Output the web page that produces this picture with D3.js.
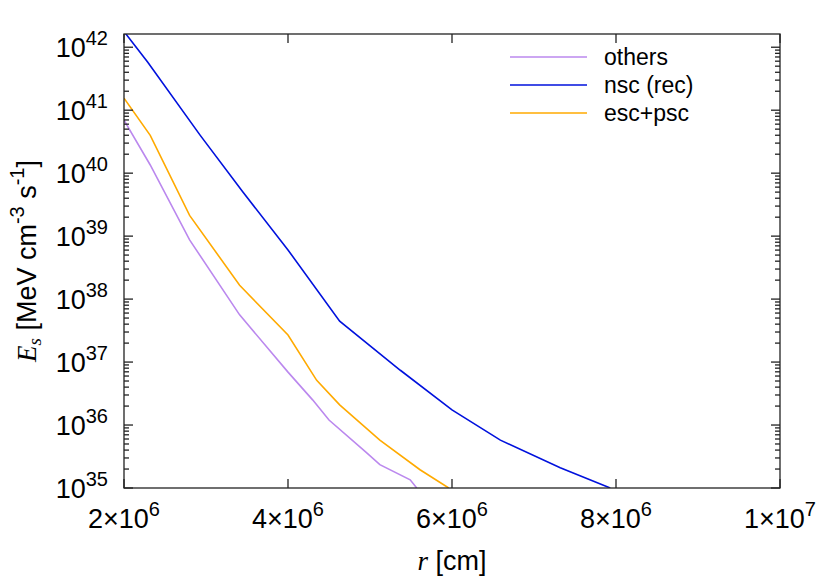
<!DOCTYPE html>
<html><head><meta charset="utf-8">
<script src="https://cdn.jsdelivr.net/npm/d3@7"></script>
<style>body{margin:0;background:#fff}svg{font-family:"Liberation Sans",Arial,sans-serif}</style>
</head><body>
<svg id="c" width="830" height="581"></svg>
<script>
// r in units of 1e6 cm, value as log10 exponent
var seriesNames = ["others", "nsc (rec)", "esc+psc"];
var seriesColors = ["#bb88ee", "#0011dd", "#ffaa00"];
var othersR = [2.0, 2.32, 2.8, 3.41, 4.0, 4.3, 4.5, 4.95, 5.12, 5.49, 5.57];
var othersE = [40.84, 40.13, 38.94, 37.75, 36.84, 36.4, 36.08, 35.57, 35.37, 35.13, 35.0];
var nscR = [2.0, 2.29, 2.93, 3.45, 4.0, 4.63, 5.37, 6.0, 6.59, 7.32, 7.93];
var nscE = [42.25, 41.76, 40.6, 39.7, 38.78, 37.65, 36.87, 36.24, 35.76, 35.32, 35.0];
var escR = [2.0, 2.32, 2.8, 3.41, 4.0, 4.35, 4.63, 5.12, 5.61, 5.96];
var escE = [41.19, 40.6, 39.33, 38.22, 37.43, 36.71, 36.32, 35.76, 35.29, 35.0];
var xTicks = [2, 4, 6, 8, 10];
var yTicks = [35, 36, 37, 38, 39, 40, 41, 42];

var svg = d3.select("#c");
var L = 124, R = 780, T = 34, B = 488;
var x = d3.scaleLinear().domain([2e6, 1e7]).range([L, R]);
var y = d3.scaleLog().domain([1e35, Math.pow(10, 42.21)]).range([B, T]);

svg.append("clipPath").attr("id", "clip").append("rect")
	.attr("x", L).attr("y", T).attr("width", R - L).attr("height", B - T);

function toPts(rs, es) {
	return rs.map(function(r, i) { return [r * 1e6, Math.pow(10, es[i])]; });
}
var series = [toPts(othersR, othersE), toPts(nscR, nscE), toPts(escR, escE)];
var line = d3.line().x(function(d) { return x(d[0]); }).y(function(d) { return y(d[1]); });

series.forEach(function(s, i) {
	svg.append("path").attr("d", line(s)).attr("fill", "none")
		.attr("stroke", seriesColors[i]).attr("stroke-width", 1.6).attr("clip-path", "url(#clip)");
});

var ax = svg.append("g").attr("stroke", "#222").attr("stroke-width", 1.3);
ax.append("rect").attr("x", L).attr("y", T).attr("width", R - L).attr("height", B - T).attr("fill", "none");

// x ticks
xTicks.forEach(function(t) {
	var px = x(t * 1e6);
	ax.append("line").attr("x1", px).attr("x2", px).attr("y1", B).attr("y2", B - 9);
	ax.append("line").attr("x1", px).attr("x2", px).attr("y1", T).attr("y2", T + 9);
	var tx = svg.append("text").attr("x", px).attr("y", B + 40).attr("text-anchor", "middle").attr("font-size", 27);
	tx.append("tspan").text(t === 10 ? "1\u00d710" : t + "\u00d710");
	tx.append("tspan").attr("dy", -12).attr("font-size", 20).text(t === 10 ? "7" : "6");
});

// y ticks (major + minor)
yTicks.forEach(function(e) {
	var py = y(Math.pow(10, e));
	ax.append("line").attr("x1", L).attr("x2", L + 9).attr("y1", py).attr("y2", py);
	ax.append("line").attr("x1", R).attr("x2", R - 9).attr("y1", py).attr("y2", py);
	var tx = svg.append("text").attr("x", 108).attr("y", py + 10).attr("text-anchor", "end").attr("font-size", 27);
	tx.append("tspan").text("10");
	tx.append("tspan").attr("dy", -12).attr("font-size", 20).text(e);
	for (var k = 2; k <= 9; k++) {
		var v = k * Math.pow(10, e);
		if (v > y.domain()[1]) break;
		var pm = y(v);
		ax.append("line").attr("x1", L).attr("x2", L + 5).attr("y1", pm).attr("y2", pm);
		ax.append("line").attr("x1", R).attr("x2", R - 5).attr("y1", pm).attr("y2", pm);
	}
});

// axis labels
var xl = svg.append("text").attr("x", 452).attr("y", 570).attr("text-anchor", "middle").attr("font-size", 27);
xl.append("tspan").attr("font-family", "Liberation Serif").attr("font-style", "italic").text("r");
xl.append("tspan").text(" [cm]");

var yl = svg.append("text").attr("transform", "translate(36,261) rotate(-90)").attr("text-anchor", "middle").attr("font-size", 27);
yl.append("tspan").attr("font-family", "Liberation Serif").attr("font-style", "italic").text("E");
yl.append("tspan").attr("font-family", "Liberation Serif").attr("font-style", "italic").attr("font-size", 19).attr("dy", 5).text("s");
yl.append("tspan").attr("dy", -5).text(" [MeV cm");
yl.append("tspan").attr("dy", -12).attr("font-size", 20).text("-3");
yl.append("tspan").attr("dy", 12).text(" s");
yl.append("tspan").attr("dy", -12).attr("font-size", 20).text("-1");
yl.append("tspan").attr("dy", 12).text("]");

// legend
seriesNames.forEach(function(n, i) {
	var ly = 57 + i * 28;
	svg.append("line").attr("x1", 510).attr("x2", 587).attr("y1", ly).attr("y2", ly)
		.attr("stroke", seriesColors[i]).attr("stroke-width", 1.6);
	svg.append("text").attr("x", 604).attr("y", ly + 8).attr("font-size", 23).text(n);
});
</script>
</body></html>
